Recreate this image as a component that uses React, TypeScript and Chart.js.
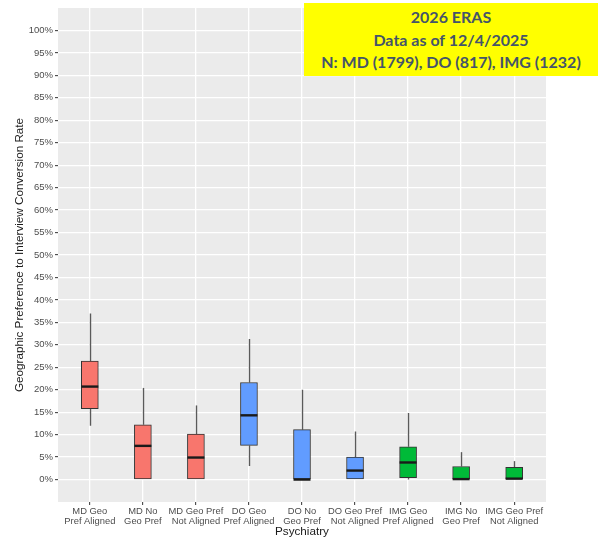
import React, { useEffect, useRef } from 'react';
import { Chart, registerables } from 'chart.js';

Chart.register(...registerables);

// ---- Data (percent) ----
const categories: string[][] = [
  ['MD Geo', 'Pref Aligned'],
  ['MD No', 'Geo Pref'],
  ['MD Geo Pref', 'Not Aligned'],
  ['DO Geo', 'Pref Aligned'],
  ['DO No', 'Geo Pref'],
  ['DO Geo Pref', 'Not Aligned'],
  ['IMG Geo', 'Pref Aligned'],
  ['IMG No', 'Geo Pref'],
  ['IMG Geo Pref', 'Not Aligned'],
];
const whiskerLow = [12.0, 0, 0, 3.0, 0, 0, 0, 0, 0];
const q1 = [15.8, 0, 0, 7.6, 0, 0, 0.4, 0, 0];
const median = [20.7, 7.5, 4.9, 14.3, 0, 2.0, 3.8, 0.1, 0.2];
const q3 = [26.4, 12.2, 10.1, 21.6, 11.1, 5.0, 7.3, 2.9, 2.7];
const whiskerHigh = [37.0, 20.4, 16.5, 31.3, 20.0, 10.7, 14.8, 6.1, 4.1];
const groupColors = [
  '#F8766D', '#F8766D', '#F8766D',
  '#619CFF', '#619CFF', '#619CFF',
  '#00BA38', '#00BA38', '#00BA38',
];
const yTickMin = 0;
const yTickMax = 100;
const titleLines = ['2026 ERAS', 'Data as of 12/4/2025', 'N: MD (1799), DO (817), IMG (1232)'];
const xTitle = 'Psychiatry';
const yTitle = 'Geographic Preference to Interview Conversion Rate';

const BOX_W = 17;

const boxPlugin = {
  id: 'boxExtras',
  beforeDraw(chart: any) {
    const { ctx, chartArea } = chart;
    ctx.save();
    ctx.fillStyle = '#EBEBEB';
    ctx.fillRect(chartArea.left, chartArea.top, chartArea.right - chartArea.left, chartArea.bottom - chartArea.top);
    ctx.restore();
  },
  beforeDatasetsDraw(chart: any) {
    const { ctx } = chart;
    const xs = chart.scales.x;
    const ys = chart.scales.y;
    ctx.save();
    ctx.strokeStyle = '#5A5A5A';
    ctx.lineWidth = 1.4;
    for (let i = 0; i < categories.length; i++) {
      const x = Math.round(xs.getPixelForValue(i)) + 0.5;
      ctx.beginPath();
      ctx.moveTo(x, ys.getPixelForValue(whiskerHigh[i]));
      ctx.lineTo(x, ys.getPixelForValue(q3[i]));
      ctx.moveTo(x, ys.getPixelForValue(q1[i]));
      ctx.lineTo(x, ys.getPixelForValue(whiskerLow[i]));
      ctx.stroke();
    }
    ctx.restore();
  },
  afterDatasetsDraw(chart: any) {
    const { ctx } = chart;
    const xs = chart.scales.x;
    const ys = chart.scales.y;
    ctx.save();
    ctx.strokeStyle = '#1a1a1a';
    ctx.lineWidth = 2.4;
    for (let i = 0; i < categories.length; i++) {
      const x = xs.getPixelForValue(i);
      const y = ys.getPixelForValue(median[i]);
      ctx.beginPath();
      ctx.moveTo(x - BOX_W / 2, y);
      ctx.lineTo(x + BOX_W / 2, y);
      ctx.stroke();
    }
    ctx.restore();
  },
};

export default function App() {
  const canvasRef = useRef<HTMLCanvasElement | null>(null);

  useEffect(() => {
    const canvas = canvasRef.current;
    if (!canvas) return;
    const chart = new Chart(canvas, {
      type: 'bar',
      data: {
        datasets: [
          {
            data: categories.map((_, i) => ({ x: i, y: [q1[i], q3[i]] })) as any,
            backgroundColor: groupColors,
            borderColor: '#333333',
            borderWidth: 1,
            borderSkipped: false,
            barThickness: BOX_W,
          },
        ],
      },
      options: {
        responsive: false,
        animation: false,
        layout: { padding: { left: 0, top: 8, right: 52, bottom: 0 } },
        plugins: { legend: { display: false }, tooltip: { enabled: false }, title: { display: false } },
        scales: {
          x: {
            type: 'linear',
            min: -0.6,
            max: 8.6,
            offset: false,
            afterBuildTicks(scale: any) {
              scale.ticks = categories.map((_, i) => ({ value: i }));
            },
            afterFit(scale: any) { scale.height = 38; },
            border: { display: false },
            grid: {
              offset: false,
              color: '#FFFFFF',
              lineWidth: 1.3,
              drawTicks: true,
              tickLength: 3,
              tickColor: '#333333',
              tickWidth: 1,
            },
            ticks: {
              autoSkip: false,
              maxRotation: 0,
              minRotation: 0,
              padding: 1,
              color: '#4D4D4D',
              font: { family: 'Liberation Sans, Arial, sans-serif', size: 9.4, lineHeight: 1.1 },
              callback: (v: any) => categories[Math.round(Number(v))] ?? '',
            },
            title: {
              display: true,
              text: xTitle,
              color: '#1A1A1A',
              font: { family: 'Liberation Sans, Arial, sans-serif', size: 11.7, lineHeight: 1.2 },
              padding: { top: 0, bottom: 1 },
            },
          },
          y: {
            type: 'linear',
            min: -5,
            max: 105,
            afterBuildTicks(scale: any) {
              scale.ticks = scale.ticks.filter((t: any) => t.value >= yTickMin && t.value <= yTickMax);
            },
            afterFit(scale: any) { scale.width = 58; },
            border: { display: false },
            grid: {
              color: '#FFFFFF',
              lineWidth: 1.3,
              drawTicks: true,
              tickLength: 3,
              tickColor: '#333333',
              tickWidth: 1,
            },
            ticks: {
              stepSize: 5,
              padding: 2,
              color: '#4D4D4D',
              font: { family: 'Liberation Sans, Arial, sans-serif', size: 9.5 },
              callback: (v: any) => `${v}%`,
            },
            title: {
              display: true,
              text: yTitle,
              color: '#1A1A1A',
              font: { family: 'Liberation Sans, Arial, sans-serif', size: 11.7, lineHeight: 1.2 },
              padding: { top: 13, bottom: 0 },
            },
          },
        },
      },
      plugins: [boxPlugin],
    });
    return () => chart.destroy();
  }, []);

  return (
    <div style={{ position: 'fixed', left: 0, top: 0, width: 598, height: 540, background: '#FFFFFF' }}>
      <canvas ref={canvasRef} width={598} height={540} style={{ position: 'absolute', left: 0, top: 0 }} />
      <div
        style={{
          position: 'absolute',
          left: 304,
          top: 3,
          width: 294,
          height: 73,
          background: '#FFFF00',
          color: '#44546A',
          fontFamily: 'Lato, "Open Sans", sans-serif',
          fontWeight: 700,
          fontSize: 16,
          lineHeight: '22.5px',
          textAlign: 'center',
          paddingTop: 3,
          boxSizing: 'border-box',
        }}
      >
        {titleLines.map((t) => (
          <div key={t}>{t}</div>
        ))}
      </div>
    </div>
  );
}
